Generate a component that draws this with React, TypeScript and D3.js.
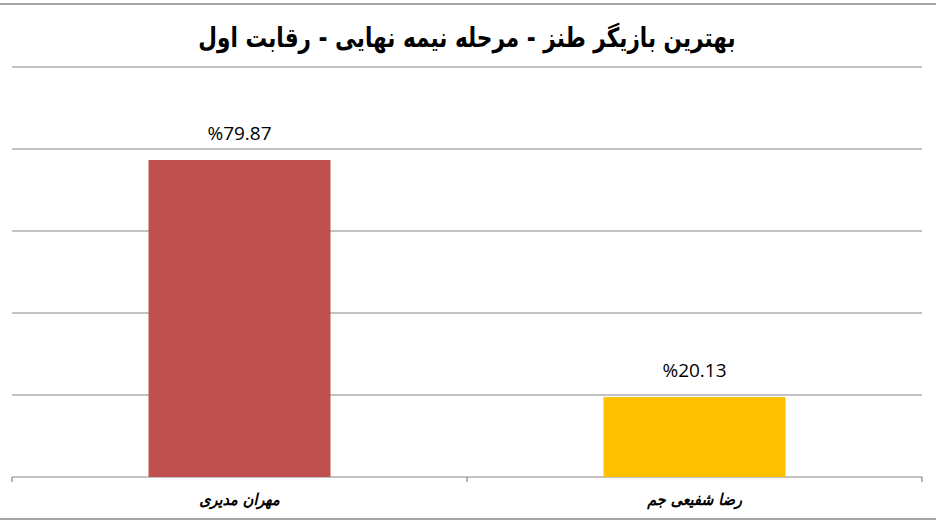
import React from "react";
import * as d3 from "d3";

const categories = ["مهران مدیری", "رضا شفیعی جم"];
const values = [79.87, 20.13];
const colors = ["#C0504D", "#FFC000"];
const title = "بهترین بازیگر طنز - مرحله نیمه نهایی - رقابت اول";
const yMax = 103.3;
const gridCount = 5;

const W = 936;
const H = 524;
const left = 12;
const right = 922;
const top = 67;
const bottom = 477;

export default function App() {
  const x = d3.scaleBand<string>().domain(categories).range([left, right]).paddingInner(0).paddingOuter(0);
  const y = d3.scaleLinear().domain([0, yMax]).range([bottom, top]);
  const ticks = d3.range(0, gridCount + 1).map((i) => (yMax * i) / gridCount);
  const barW = x.bandwidth() * 0.4;
  const gray = "#868686";
  return (
    <svg width={W} height={H} style={{ position: "absolute", left: 0, top: 0, background: "#fff" }}>
      <line x1={0} x2={W} y1={4} y2={4} stroke={gray} strokeWidth={1.5} />
      <line x1={0} x2={W} y1={519} y2={519} stroke={gray} strokeWidth={1.5} />
      <g transform={`translate(${W / 2 - 1},47) scale(0.8,1)`}>
        <text
          x={0}
          y={0}
          textAnchor="middle"
          direction="rtl"
          fontFamily="'DejaVu Sans', sans-serif"
          fontWeight="bold"
          fontSize={27}
          fill="#000"
        >
          {title}
        </text>
      </g>
      {ticks.map((t, i) => (
        <line key={i} x1={left} x2={right} y1={y(t)} y2={y(t)} stroke={gray} strokeWidth={1.2} />
      ))}
      {[left, ...categories.map((c) => (x(c) as number) + x.bandwidth())].map((px, i) => (
        <line key={"t" + i} x1={px} x2={px} y1={bottom} y2={bottom + 5} stroke={gray} strokeWidth={1.2} />
      ))}
      {categories.map((c, i) => {
        const cx = (x(c) as number) + x.bandwidth() / 2;
        return (
          <g key={c}>
            <rect x={cx - barW / 2} y={y(values[i])} width={barW} height={bottom - y(values[i])} fill={colors[i]} />
            <text
              x={cx}
              y={y(values[i]) - 20}
              textAnchor="middle"
              fontFamily="'Open Sans', sans-serif"
              fontSize={19}
              fill="#000"
            >
              {"%" + values[i].toFixed(2)}
            </text>
            <g transform={`translate(${cx},505) scale(0.9,1)`}>
              <text
                x={0}
                y={0}
                textAnchor="middle"
                direction="rtl"
                fontFamily="'DejaVu Sans', sans-serif"
                fontWeight="bold"
                fontStyle="italic"
                fontSize={16}
                fill="#000"
              >
                {c}
              </text>
            </g>
          </g>
        );
      })}
    </svg>
  );
}
